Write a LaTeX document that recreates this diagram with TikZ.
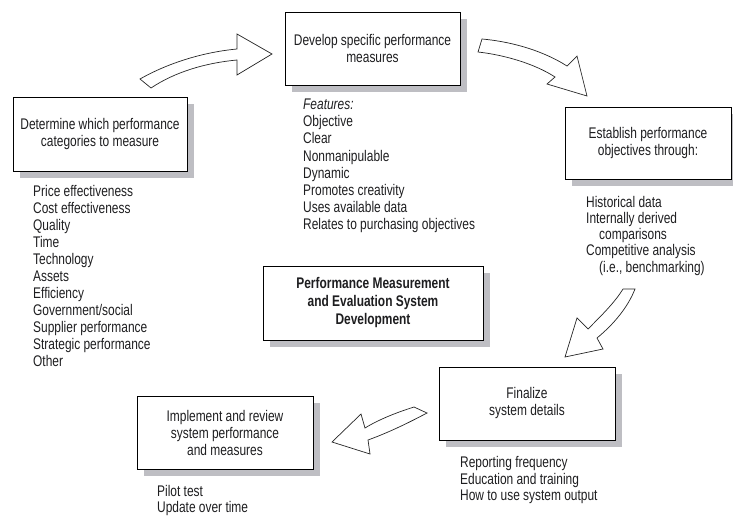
\documentclass[tikz,border=0pt]{standalone}
\usepackage{fontspec}
\setmainfont{Liberation Sans}[FakeStretch=0.775]
\usetikzlibrary{shadows}
\definecolor{ink}{RGB}{30,30,32}
\definecolor{shadowgray}{RGB}{190,190,195}
\begin{document}
\begin{tikzpicture}[x=1pt,y=-1pt,
  txt/.style={font=\fontsize{15.4}{17}\selectfont, text=ink},
  stage/.style 2 args={txt, draw=black, line width=0.9pt, fill=white,
    align=center, minimum width=#1, minimum height=#2, inner sep=2pt,
    drop shadow={shadow xshift=7pt, shadow yshift=-7pt, fill=shadowgray, opacity=1}},
  itemlist/.style={txt, align=left, anchor=north west, inner sep=0pt},
  blockarrow/.style={draw=black!85, line width=0.7pt, fill=white, line join=miter}]

\useasboundingbox (0,0) rectangle (733,516);
\clip (0,0) rectangle (733,516);

% stage boxes
\node[stage={174pt}{74pt}] (cat) at (100,134) {Determine which performance\\categories to measure};
\node[stage={175pt}{73pt}] (dev) at (372.5,48.5) {Develop specific performance\\measures};
\node[stage={166pt}{72pt}] (est) at (648,143) {Establish performance\\objectives through:};
\node[stage={176pt}{73pt}] (fin) at (527,403.5) {Finalize\\system details};
\node[stage={176pt}{73pt}] (imp) at (225,432.5) {Implement and review\\system performance\\and measures};
\node[stage={220pt}{74pt}, font=\fontsize{15.4}{18}\selectfont\bfseries] (core) at (373,303)
  {Performance Measurement\\and Evaluation System\\Development};

% item lists under the boxes
\node[itemlist] (catlist) at (33,185.5) {Price effectiveness\\Cost effectiveness\\Quality\\Time\\Technology\\Assets\\Efficiency\\Government/social\\Supplier performance\\Strategic performance\\Other};
\node[itemlist, font=\fontsize{15.4}{17.1}\selectfont] (devlist) at (303,99) {\itshape Features:\\Objective\\Clear\\Nonmanipulable\\Dynamic\\Promotes creativity\\Uses available data\\Relates to purchasing objectives};
\node[itemlist, font=\fontsize{15.4}{16.2}\selectfont] (estlist) at (586,196) {Historical data\\Internally derived\\\hspace*{13pt}comparisons\\Competitive analysis\\\hspace*{13pt}(i.e., benchmarking)};
\node[itemlist, font=\fontsize{15.4}{16.8}\selectfont] (finlist) at (460,456) {Reporting frequency\\Education and training\\How to use system output};
\node[itemlist, font=\fontsize{15.4}{16}\selectfont] (implist) at (157,485) {Pilot test\\Update over time};

% curved block arrows around the cycle
\draw[blockarrow] (140,79) .. controls (170,62) and (205,52) .. (237,49) -- (237,34) -- (272,54)
  -- (237,75) -- (237,60) .. controls (205,63) and (175,72) .. (151,88) -- cycle;
\draw[blockarrow] (482,39) .. controls (515,42) and (545,52) .. (567,66) -- (577,56) -- (587,96)
  -- (547,84) -- (555,77) .. controls (535,64) and (505,55) .. (478,52) -- cycle;
\draw[blockarrow] (635,289) .. controls (628,307) and (614,324) .. (597,338) -- (603,349) -- (565,357)
  -- (577,318) -- (588,329) .. controls (603,314) and (615,302) .. (623,289) -- cycle;
\draw[blockarrow] (414,407) .. controls (395,413) and (378,420) .. (365,428) -- (361,414) -- (332,442)
  -- (370,454) -- (368,440) .. controls (390,432) and (410,422) .. (427,413) -- cycle;
\end{tikzpicture}
\end{document}
